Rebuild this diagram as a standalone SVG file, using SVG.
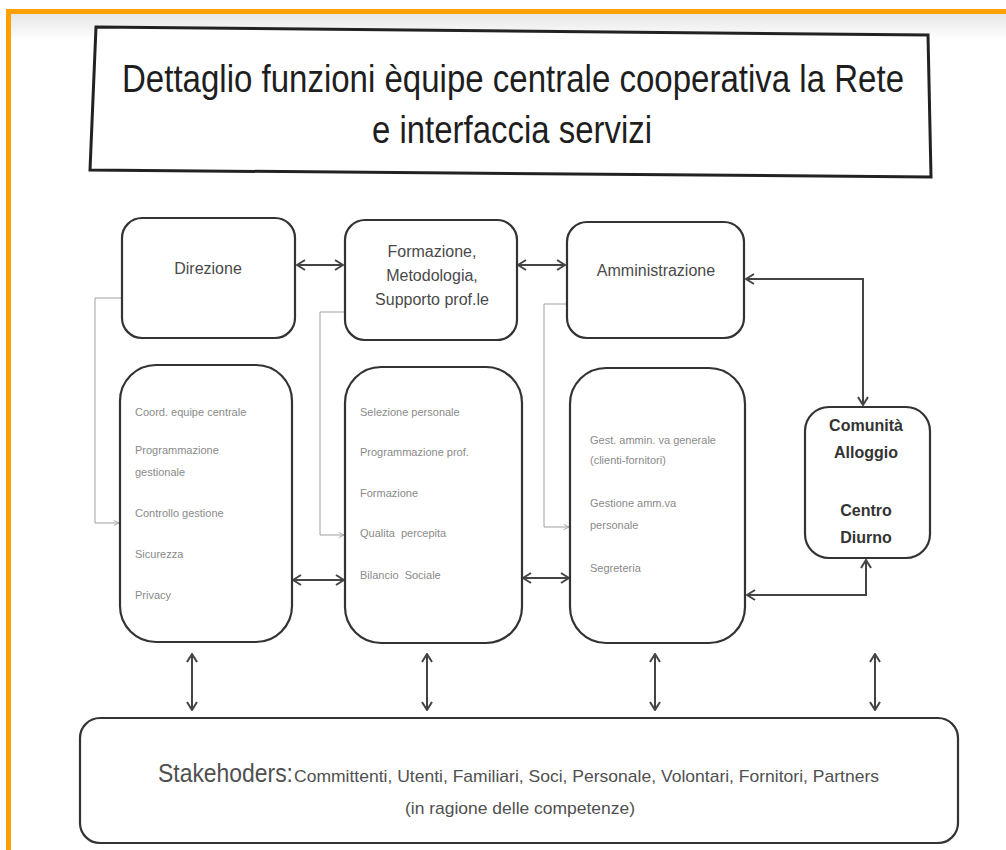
<svg xmlns="http://www.w3.org/2000/svg" width="1006" height="850" viewBox="0 0 1006 850">
  <style>
    .box { fill: #ffffff; stroke: #333333; stroke-width: 2.2; }
    .head { font-family: "Liberation Sans", Arial, sans-serif; font-size: 16px; fill: #4a4a4a; text-anchor: middle; }
    .serv { font-family: "Liberation Sans", Arial, sans-serif; font-size: 16px; font-weight: bold; fill: #333333; text-anchor: middle; }
    .item { font-family: "Liberation Sans", Arial, sans-serif; font-size: 11px; fill: #8a8a8a; }
    .title { font-family: "Liberation Sans Narrow", "Liberation Sans", Arial, sans-serif; font-size: 38px; fill: #1e1e1e; }
    .stake { font-family: "Liberation Sans Narrow", "Liberation Sans", Arial, sans-serif; fill: #505050; }
    .link { fill: none; stroke: #444444; stroke-width: 2; }
    .thin { fill: none; stroke: #a0a0a0; stroke-width: 1; }
  </style>
  <defs>
    <marker id="chev" viewBox="0 0 10 12" refX="9" refY="6" markerWidth="10" markerHeight="12" markerUnits="userSpaceOnUse" orient="auto-start-reverse">
      <path d="M1,1 L9,6 L1,11" fill="none" stroke="#444444" stroke-width="2"/>
    </marker>
    <marker id="chevSmall" viewBox="0 0 8 8" refX="7" refY="4" markerWidth="7" markerHeight="7" markerUnits="userSpaceOnUse" orient="auto">
      <path d="M1,1 L7,4 L1,7" fill="none" stroke="#a0a0a0" stroke-width="1"/>
    </marker>
    <linearGradient id="topShade" x1="0" y1="0" x2="0" y2="1">
      <stop offset="0" stop-color="#e6e6e6"/>
      <stop offset="1" stop-color="#ffffff"/>
    </linearGradient>
  </defs>

  <!-- page background and orange frame -->
  <rect x="0" y="0" width="1006" height="850" fill="#ffffff"/>
  <rect x="11" y="14" width="995" height="26" fill="url(#topShade)"/>
  <rect x="6" y="9" width="1000" height="5" fill="#ffa000"/>
  <rect x="6" y="9" width="5" height="841" fill="#ffa000"/>

  <!-- title -->
  <g id="title">
    <polygon points="96,27 928,35 931,177 90,170" fill="#ffffff" stroke="#222222" stroke-width="3"/>
    <text class="title" x="122" y="92" textLength="782" lengthAdjust="spacingAndGlyphs">Dettaglio funzioni èquipe centrale cooperativa la Rete</text>
    <text class="title" x="372" y="143" textLength="280" lengthAdjust="spacingAndGlyphs">e interfaccia servizi</text>
  </g>

  <!-- connectors -->
  <g id="connectors">
    <!-- horizontal links between top boxes -->
    <line class="link" x1="297" y1="265" x2="343" y2="265" marker-start="url(#chev)" marker-end="url(#chev)"/>
    <line class="link" x1="518" y1="265" x2="565" y2="265" marker-start="url(#chev)" marker-end="url(#chev)"/>
    <!-- Amministrazione <-> Comunità -->
    <polyline class="link" points="746,279 863,279 863,405" marker-start="url(#chev)" marker-end="url(#chev)"/>
    <!-- Comunità <-> admin details -->
    <polyline class="link" points="866,560 866,595 747,595" marker-start="url(#chev)" marker-end="url(#chev)"/>
    <!-- links between detail boxes -->
    <line class="link" x1="293" y1="580" x2="344" y2="580" marker-start="url(#chev)" marker-end="url(#chev)"/>
    <line class="link" x1="523" y1="578" x2="569" y2="578" marker-start="url(#chev)" marker-end="url(#chev)"/>
    <!-- links down to stakeholders -->
    <line class="link" x1="192" y1="654" x2="192" y2="710" marker-start="url(#chev)" marker-end="url(#chev)"/>
    <line class="link" x1="427" y1="654" x2="427" y2="710" marker-start="url(#chev)" marker-end="url(#chev)"/>
    <line class="link" x1="655" y1="654" x2="655" y2="710" marker-start="url(#chev)" marker-end="url(#chev)"/>
    <line class="link" x1="875" y1="654" x2="875" y2="710" marker-start="url(#chev)" marker-end="url(#chev)"/>
    <!-- thin brackets from each head box to its detail box -->
    <polyline class="thin" points="122,298 95,298 95,523 119,523" marker-end="url(#chevSmall)"/>
    <polyline class="thin" points="345,312 320,312 320,535 344,535" marker-end="url(#chevSmall)"/>
    <polyline class="thin" points="567,304 544,304 544,527 569,527" marker-end="url(#chevSmall)"/>
  </g>

  <!-- head boxes -->
  <g id="direzione">
    <rect class="box" x="122" y="218" width="173" height="120" rx="20"/>
    <text class="head" x="208" y="274">Direzione</text>
  </g>
  <g id="formazione">
    <rect class="box" x="345" y="220" width="172" height="120" rx="20"/>
    <text class="head" x="432" y="257">Formazione,</text>
    <text class="head" x="432" y="281">Metodologia,</text>
    <text class="head" x="432" y="305">Supporto prof.le</text>
  </g>
  <g id="amministrazione">
    <rect class="box" x="567" y="222" width="177" height="116" rx="20"/>
    <text class="head" x="656" y="276">Amministrazione</text>
  </g>

  <!-- detail boxes -->
  <g id="direzione-funzioni">
    <rect class="box" x="120" y="365" width="172" height="277" rx="36"/>
    <text class="item" x="135" y="416">Coord. equipe centrale</text>
    <text class="item" x="135" y="454">Programmazione</text>
    <text class="item" x="135" y="476">gestionale</text>
    <text class="item" x="135" y="517">Controllo gestione</text>
    <text class="item" x="135" y="558">Sicurezza</text>
    <text class="item" x="135" y="599">Privacy</text>
  </g>
  <g id="formazione-funzioni">
    <rect class="box" x="345" y="367" width="177" height="276" rx="36"/>
    <text class="item" x="360" y="416">Selezione personale</text>
    <text class="item" x="360" y="456">Programmazione prof.</text>
    <text class="item" x="360" y="497">Formazione</text>
    <text class="item" x="360" y="537" xml:space="preserve">Qualita  percepita</text>
    <text class="item" x="360" y="579" xml:space="preserve">Bilancio  Sociale</text>
  </g>
  <g id="amministrazione-funzioni">
    <rect class="box" x="570" y="368" width="175" height="275" rx="36"/>
    <text class="item" x="590" y="444">Gest. ammin. va generale</text>
    <text class="item" x="590" y="464" font-size="9">(clienti-fornitori)</text>
    <text class="item" x="590" y="507">Gestione amm.va</text>
    <text class="item" x="590" y="529">personale</text>
    <text class="item" x="590" y="572">Segreteria</text>
  </g>

  <!-- services -->
  <g id="servizi">
    <rect class="box" x="805" y="407" width="125" height="151" rx="24"/>
    <text class="serv" x="866" y="431">Comunità</text>
    <text class="serv" x="866" y="458">Alloggio</text>
    <text class="serv" x="866" y="516">Centro</text>
    <text class="serv" x="866" y="543">Diurno</text>
  </g>

  <!-- stakeholders -->
  <g id="stakeholders">
    <rect class="box" x="80" y="718" width="878" height="125" rx="20"/>
    <text class="stake" x="158" y="782" font-size="25" textLength="135" lengthAdjust="spacingAndGlyphs">Stakehoders:</text>
    <text class="stake" x="294" y="782" font-size="17" textLength="585" lengthAdjust="spacingAndGlyphs">Committenti, Utenti, Familiari, Soci, Personale, Volontari, Fornitori, Partners</text>
    <text class="stake" x="405" y="814" font-size="17" textLength="230" lengthAdjust="spacingAndGlyphs">(in ragione delle competenze)</text>
  </g>
</svg>
